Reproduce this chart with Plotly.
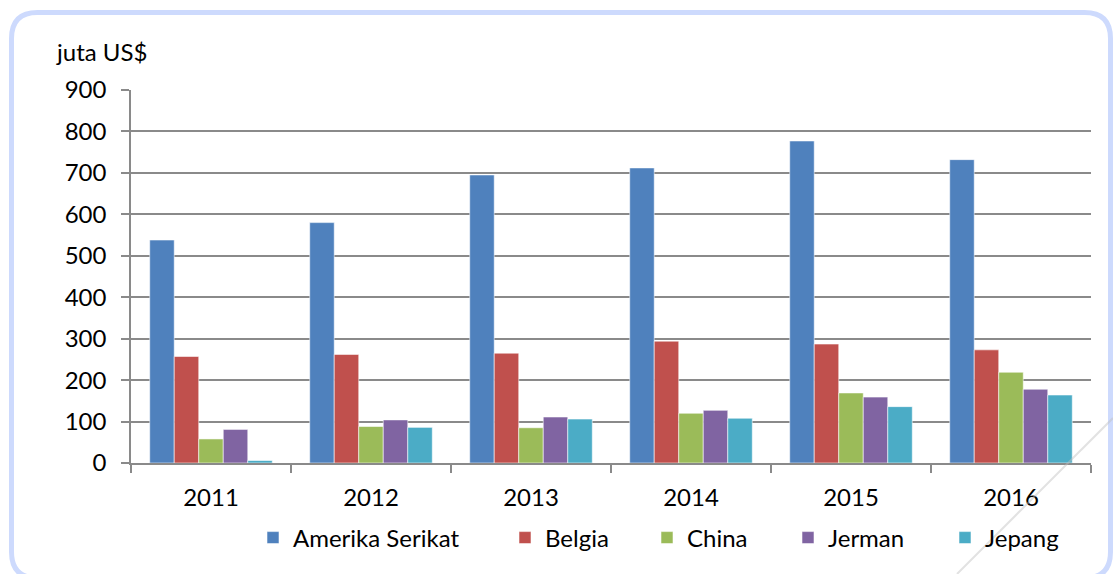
import plotly.graph_objects as go

# Export values (juta US$) by destination country, 2011-2016
years = ["2011", "2012", "2013", "2014", "2015", "2016"]
amerika_serikat = [538, 580, 695, 712, 777, 732]
belgia = [257, 262, 265, 294, 287, 273]
china = [58, 88, 85, 120, 169, 219]
jerman = [81, 104, 111, 127, 159, 178]
jepang = [6, 86, 106, 108, 136, 164]

series_names = ["Amerika Serikat", "Belgia", "China", "Jerman", "Jepang"]
series_values = [amerika_serikat, belgia, china, jerman, jepang]
series_colors = ["#4F81BD", "#C0504D", "#9BBB59", "#8064A2", "#4BACC6"]

y_ticks = [0, 100, 200, 300, 400, 500, 600, 700, 800, 900]

W, H = 1113, 574
L, R, T, B = 131, 22, 90, 111
PW, PH = W - L - R, H - T - B
FONT = "Lato, Carlito, Calibri, sans-serif"
GRID = "#8A8A8A"


def px_x(x):
    return (x - L) / PW


def px_y(y):
    return (H - B - y) / PH


fig = go.Figure()

legend_keys = ["legend", "legend2", "legend3", "legend4", "legend5"]
legend_left = [253, 505, 647, 788, 945]

for name, vals, col, lk in zip(series_names, series_values, series_colors, legend_keys):
    fig.add_trace(go.Bar(
        x=years, y=vals, name=name, legend=lk,
        marker=dict(color=col, line=dict(color="rgba(255,255,255,0.55)", width=1)),
    ))

axis_font = dict(family=FONT, size=24, color="#000000")

layout_legends = {}
for lk, lx in zip(legend_keys, legend_left):
    layout_legends[lk] = dict(
        x=px_x(lx), y=px_y(538), xref="paper", yref="paper",
        xanchor="left", yanchor="middle", orientation="h",
        font=axis_font, bgcolor="rgba(0,0,0,0)", borderwidth=0,
    )

fig.update_layout(
    width=W, height=H,
    margin=dict(l=L, r=R, t=T, b=B, pad=0),
    paper_bgcolor="white", plot_bgcolor="white",
    barmode="group", bargap=0.234, bargroupgap=0,
    showlegend=True,
    font=axis_font,
    **layout_legends,
)

fig.update_xaxes(
    type="category",
    showline=True, linecolor=GRID, linewidth=1.5,
    ticks="outside", tickson="boundaries", ticklen=8, tickcolor=GRID, tickwidth=1.5,
    showgrid=False, tickfont=axis_font, ticklabelstandoff=12,
)
fig.update_yaxes(
    range=[0, 900], tickvals=y_ticks,
    showline=True, linecolor=GRID, linewidth=1.5,
    ticks="outside", ticklen=8, tickcolor=GRID, tickwidth=1.5,
    showgrid=True, gridcolor=GRID, gridwidth=1.5, zeroline=False,
    tickfont=axis_font, ticklabelstandoff=10,
)

# Unit label above the value axis
fig.add_annotation(
    text="juta US$", xref="paper", yref="paper",
    x=px_x(54), y=px_y(52), xanchor="left", yanchor="middle",
    showarrow=False, font=axis_font,
)

# Rounded frame around the chart
x0, x1, y0, y1, r = 11.5, 1110.5, 12.5, 578, 26
path = (
    f"M {px_x(x0 + r)},{px_y(y0)} L {px_x(x1 - r)},{px_y(y0)} "
    f"Q {px_x(x1)},{px_y(y0)} {px_x(x1)},{px_y(y0 + r)} "
    f"L {px_x(x1)},{px_y(y1 - r)} Q {px_x(x1)},{px_y(y1)} {px_x(x1 - r)},{px_y(y1)} "
    f"L {px_x(x0 + r)},{px_y(y1)} Q {px_x(x0)},{px_y(y1)} {px_x(x0)},{px_y(y1 - r)} "
    f"L {px_x(x0)},{px_y(y0 + r)} Q {px_x(x0)},{px_y(y0)} {px_x(x0 + r)},{px_y(y0)} Z"
)
fig.add_shape(type="path", path=path, xref="paper", yref="paper",
              line=dict(color="#CDDAFD", width=5), layer="below")

# Faint diagonal stroke at the lower right
fig.add_shape(type="line", xref="paper", yref="paper",
              x0=px_x(1113), y0=px_y(418), x1=px_x(957), y1=px_y(574),
              line=dict(color="rgba(190,190,190,0.45)", width=2), layer="above")

fig.write_html("out.html")
